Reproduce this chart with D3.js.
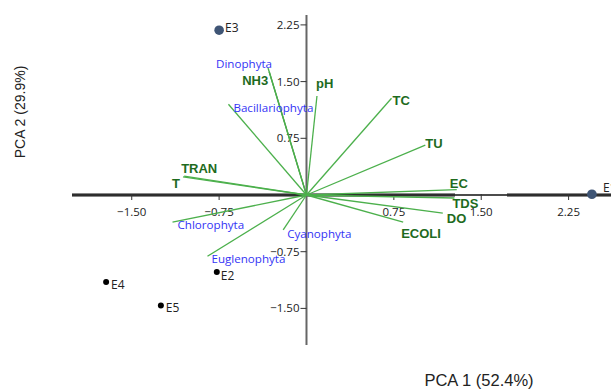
<!DOCTYPE html>
<html>
<head>
<meta charset="utf-8">
<script src="https://cdn.jsdelivr.net/npm/d3@7"></script>
<style>
  body { margin: 0; background: #fff; }
  svg { display: block; }
</style>
</head>
<body>
<div id="chart"></div>
<script>
// Site scores
const sites = ["E1", "E2", "E3", "E4", "E5"];
const siteX = [2.45, -0.77, -0.75, -1.72, -1.25];
const siteY = [0.01, -1.02, 2.18, -1.15, -1.46];

// Environmental variable loadings
const envNames = ["NH3", "pH", "TC", "TU", "EC", "TDS", "DO", "ECOLI", "T", "TRAN"];
const envX = [-0.32, 0.09, 0.73, 1.02, 1.29, 1.27, 1.17, 0.83, -1.06, -1.05];
const envY = [1.63, 1.31, 1.28, 0.66, 0.07, -0.04, -0.24, -0.36, 0.24, 0.25];

// Phytoplankton group loadings
const phytoNames = ["Dinophyta", "Bacillariophyta", "Chlorophyta", "Euglenophyta", "Cyanophyta"];
const phytoX = [-0.33, -0.67, -1.15, -0.85, -0.20];
const phytoY = [1.68, 1.20, -0.36, -0.81, -0.46];

const xTicks = [-1.5, -0.75, 0.75, 1.5, 2.25];
const yTicks = [2.25, 1.5, 0.75, -0.75, -1.5];

// label placement (px offsets from the arrow tip / point)
const labelPos = {
  NH3: ["end", -1, 13], pH: ["start", -1, -8], TC: ["start", 1, 7], TU: ["start", 0, 3],
  EC: ["start", -7, -2], TDS: ["start", -2, 10], DO: ["start", 4, 10], ECOLI: ["start", -2, 16],
  T: ["end", -3, 11], TRAN: ["start", -3, -3],
  Dinophyta: ["end", 4, 0], Bacillariophyta: ["start", 5, 8], Chlorophyta: ["start", 5, 7],
  Euglenophyta: ["start", 4, 7], Cyanophyta: ["start", 4, 8],
  E1: ["start", 11, -2], E2: ["start", 4, 8], E3: ["start", 6, 2], E4: ["start", 5, 7], E5: ["start", 5, 7]
};

const W = 611, H = 389;
const svg = d3.select("#chart").append("svg")
  .attr("width", W).attr("height", H);

const x = d3.scaleLinear().domain([-2, 2.62]).range([73.5, 611.7]);
const y = d3.scaleLinear().domain([-2, 2.5]).range([346.2, 6]);

const tickFont = "'Open Sans', 'Noto Sans', sans-serif";

// x axis: grey band (with a gap) + black line
[[72, 455], [507, W]].forEach(([a, b]) => {
  svg.append("line").attr("x1", a).attr("x2", b).attr("y1", y(0)).attr("y2", y(0))
    .attr("stroke", "#888").attr("stroke-width", 4);
});
svg.append("line").attr("x1", 72).attr("x2", W).attr("y1", y(0)).attr("y2", y(0))
  .attr("stroke", "#111").attr("stroke-width", 1.6);
// y axis
svg.append("line").attr("x1", x(0)).attr("x2", x(0)).attr("y1", 15).attr("y2", 345)
  .attr("stroke", "#666").attr("stroke-width", 2);

const xt = svg.append("g");
xTicks.forEach(t => {
  xt.append("line").attr("x1", x(t)).attr("x2", x(t))
    .attr("y1", y(0) - 1).attr("y2", y(0) + 5).attr("stroke", "#333").attr("stroke-width", 1);
  xt.append("text").attr("x", x(t)).attr("y", y(0) + 21)
    .attr("text-anchor", "middle").attr("font-family", tickFont).attr("font-size", 11.5)
    .attr("fill", "#222").text(d3.format(".2f")(t));
});
const yt = svg.append("g");
yTicks.forEach(t => {
  yt.append("line").attr("x1", x(0) - 6).attr("x2", x(0))
    .attr("y1", y(t)).attr("y2", y(t)).attr("stroke", "#333").attr("stroke-width", 1);
  yt.append("text").attr("x", x(0) - 7).attr("y", y(t) + 4)
    .attr("text-anchor", "end").attr("font-family", tickFont).attr("font-size", 11.5)
    .attr("fill", "#222").text(d3.format(".2f")(t));
});

// vectors
const vectors = envNames.map((n, i) => ({ name: n, vx: envX[i], vy: envY[i], kind: "env" }))
  .concat(phytoNames.map((n, i) => ({ name: n, vx: phytoX[i], vy: phytoY[i], kind: "phyto" })));

svg.append("g").selectAll("line").data(vectors).join("line")
  .attr("x1", x(0)).attr("y1", y(0))
  .attr("x2", d => x(d.vx)).attr("y2", d => y(d.vy))
  .attr("stroke", d => d.name === "NH3" ? "#2f8a2f" : "#4cb04c")
  .attr("stroke-width", 1.3);

svg.append("g").selectAll("text").data(vectors).join("text")
  .attr("x", d => x(d.vx) + labelPos[d.name][1])
  .attr("y", d => y(d.vy) + labelPos[d.name][2])
  .attr("text-anchor", d => labelPos[d.name][0])
  .attr("font-family", d => d.kind === "env" ? "'Liberation Sans', Arial, sans-serif" : tickFont)
  .attr("font-size", d => d.kind === "env" ? 13 : 11.6)
  .attr("font-weight", d => d.kind === "env" ? "bold" : "normal")
  .attr("fill", d => d.kind === "env" ? "#1e6b1e" : "#3434f5")
  .text(d => d.name);

// site points
const pts = sites.map((s, i) => ({ name: s, sx: siteX[i], sy: siteY[i] }));
const big = new Set(["E1", "E3"]);
svg.append("g").selectAll("circle").data(pts).join("circle")
  .attr("cx", d => x(d.sx)).attr("cy", d => y(d.sy))
  .attr("r", d => big.has(d.name) ? 4.8 : 3)
  .attr("fill", d => big.has(d.name) ? "#3f5575" : "#000");
svg.append("g").selectAll("text").data(pts).join("text")
  .attr("x", d => x(d.sx) + labelPos[d.name][1])
  .attr("y", d => y(d.sy) + labelPos[d.name][2])
  .attr("font-family", tickFont).attr("font-size", 12).attr("fill", "#222")
  .text(d => d.name);

// axis titles
svg.append("text").attr("x", 479).attr("y", 386).attr("text-anchor", "middle")
  .attr("font-family", "'Liberation Sans', Arial, sans-serif").attr("font-size", 16.5)
  .attr("fill", "#222").text("PCA 1 (52.4%)");
svg.append("text").attr("transform", "translate(25,112) rotate(-90)").attr("text-anchor", "middle")
  .attr("font-family", "'Liberation Sans', Arial, sans-serif").attr("font-size", 14)
  .attr("fill", "#222").text("PCA 2 (29.9%)");
</script>
</body>
</html>
